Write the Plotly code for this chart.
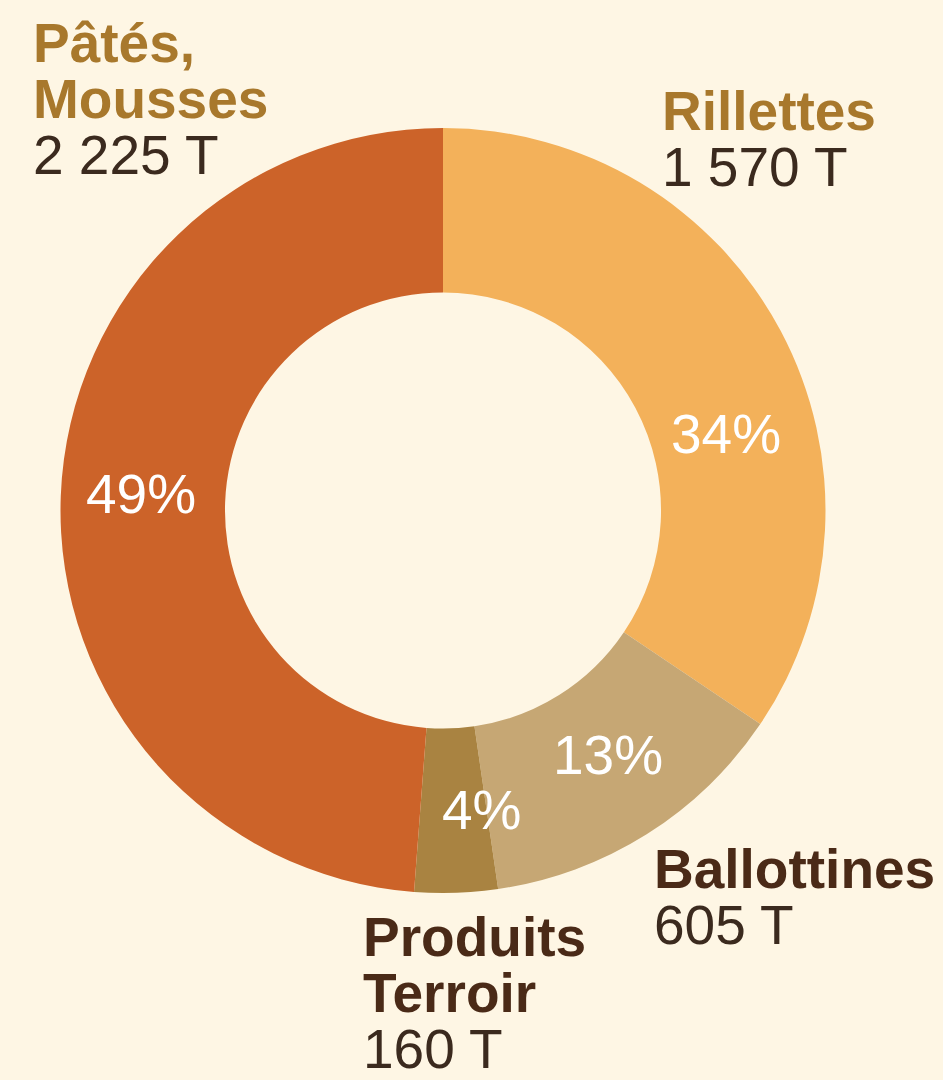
import plotly.graph_objects as go

# Data
categories = ["Rillettes", "Ballottines", "Produits Terroir", "Pâtés, Mousses"]
tonnages = [1570, 605, 160, 2225]
value_labels = ["1 570 T", "605 T", "160 T", "2 225 T"]
name_lines = [["Rillettes"], ["Ballottines"], ["Produits", "Terroir"], ["Pâtés,", "Mousses"]]

# Styles
colors = ["#F3B15A", "#C6A774", "#A98341", "#CC6329"]
name_colors = ["#A8782C", "#4A2A17", "#4A2A17", "#A8782C"]
value_color = "#3B2A1E"
bg = "#FEF6E4"
W, H = 943, 1080
FS = 55

# Label layout (pixel positions: left x, first baseline, line spacing)
label_pos = [(660, 130), (652, 888), (361, 956), (31, 62)]
line_gaps = [56, 56, 56, 56]
pct_pos = [(726, 434), (608, 755), (482, 810), (141, 494)]

fig = go.Figure(go.Pie(
    labels=categories,
    values=tonnages,
    sort=False,
    direction="clockwise",
    rotation=0,
    hole=0.57,
    marker=dict(colors=colors, line=dict(width=0)),
    textinfo="none",
    hoverinfo="label+value+percent",
    showlegend=False,
    domain=dict(x=[60 / W, 826 / W], y=[1 - 893 / H, 1 - 128 / H]),
))

total = sum(tonnages)
annotations = []

def px(x, y):
    return x / W, 1 - y / H

for i, cat in enumerate(categories):
    lx, base = label_pos[i]
    lines = name_lines[i] + [value_labels[i]]
    for j, line in enumerate(lines):
        is_value = j == len(lines) - 1
        b = base + j * line_gaps[i]
        cy = b - 0.35 * FS
        x, y = px(lx, cy)
        annotations.append(dict(
            x=x, y=y, xref="paper", yref="paper", xanchor="left", yanchor="middle",
            text=line if is_value else f"<b>{line}</b>", showarrow=False,
            font=dict(family="Liberation Sans, Arial", size=FS,
                      color=value_color if is_value else name_colors[i]),
        ))
    pct = round(tonnages[i] / total * 100)
    x, y = px(*pct_pos[i])
    annotations.append(dict(
        x=x, y=y, xref="paper", yref="paper", xanchor="center", yanchor="middle",
        text=f"{pct}%", showarrow=False,
        font=dict(family="Liberation Sans, Arial", size=FS, color="white"),
    ))

fig.update_layout(
    width=W, height=H,
    margin=dict(l=0, r=0, t=0, b=0),
    paper_bgcolor=bg, plot_bgcolor=bg,
    annotations=annotations,
)

fig.write_html("out.html")
